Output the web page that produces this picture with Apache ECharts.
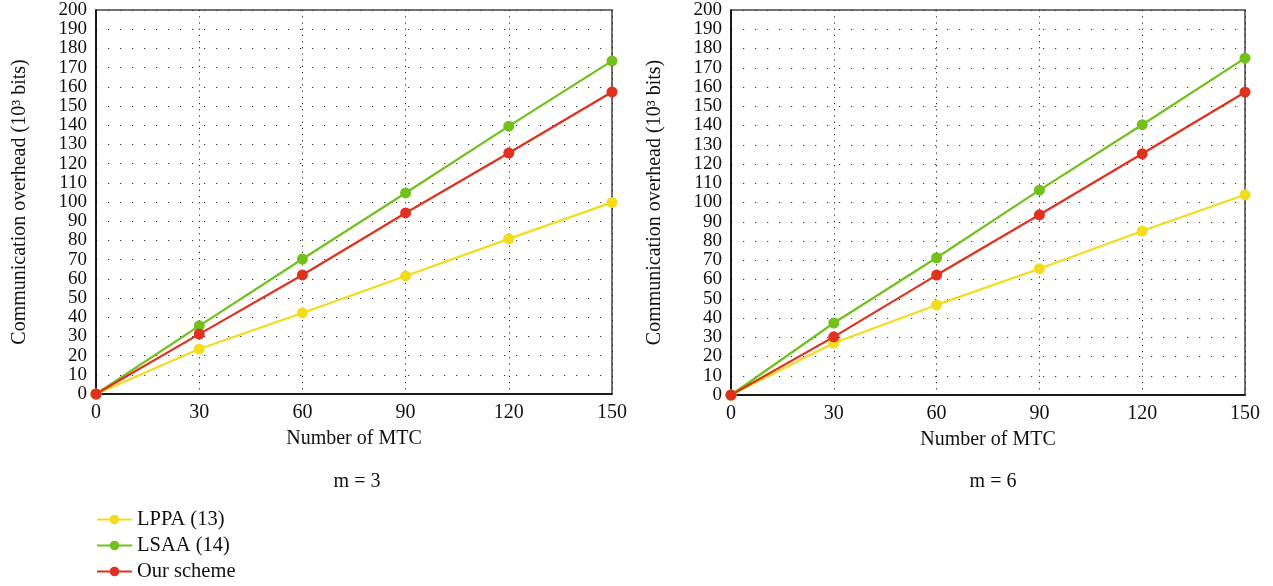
<!DOCTYPE html>
<html><head><meta charset="utf-8">
<script src="https://cdn.jsdelivr.net/npm/echarts@6/dist/echarts.min.js"></script>
<style>html,body{margin:0;padding:0;background:#fff}#c{width:1273px;height:586px}</style>
</head><body><div id="c"></div>
<script>
const xValues = [0, 30, 60, 90, 120, 150];
const seriesNames = ['LPPA (13)', 'LSAA (14)', 'Our scheme'];
// m = 3
const lppa_m3 = [0, 23.4, 42.2, 61.5, 80.8, 99.8];
const lsaa_m3 = [0, 35.5, 70.3, 104.7, 139.5, 173.5];
const ours_m3 = [0, 31.2, 62.0, 94.3, 125.5, 157.3];
// m = 6
const lppa_m6 = [0, 27.0, 46.8, 65.6, 85.2, 104.0];
const lsaa_m6 = [0, 37.4, 71.3, 106.4, 140.4, 175.0];
const ours_m6 = [0, 30.2, 62.3, 93.6, 125.3, 157.3];
const panelTitles = ['m = 3', 'm = 6'];
const xTitle = 'Number of MTC';
const yTitle = 'Communication overhead (10\u00B3 bits)';

const colors = ['#f2dc1c', '#72c11a', '#e0301e'];
const font = '"Liberation Serif", "DejaVu Serif", serif';

const grids = [
  {left: 96, right: 661, top: 10, bottom: 192},
  {left: 731, right: 28, top: 10, bottom: 191}
];

function xAxis(i){
  return {
    type: 'value', gridIndex: i, min: 0, max: 150, interval: 30,
    name: xTitle, nameLocation: 'middle', nameGap: 35,
    nameTextStyle: {fontFamily: font, fontSize: 20, color: '#111'},
    axisLine: {show: true, onZero: false, lineStyle: {color: '#000', width: 1.5}},
    axisTick: {show: false},
    axisLabel: {fontFamily: font, fontSize: 20, color: '#111', margin: 9,
                showMinLabel: true, showMaxLabel: true, hideOverlap: false},
    splitLine: {show: true, lineStyle: {color: '#222', width: 1, type: [1.2, 5]}}
  };
}
function yAxis(i){
  return {
    type: 'value', gridIndex: i, min: 0, max: 200, interval: 10,
    name: yTitle, nameLocation: 'middle', nameGap: 66,
    nameTextStyle: {fontFamily: font, fontSize: 20, color: '#111'},
    axisLine: {show: true, lineStyle: {color: '#000', width: 1.5}},
    axisTick: {show: false},
    axisLabel: {fontFamily: font, fontSize: 19, color: '#111', margin: 9,
                showMinLabel: true, showMaxLabel: true, hideOverlap: false},
    splitLine: {show: true, lineStyle: {color: '#333', width: 1, type: [1.2, 10.8]}}
  };
}
function ser(name, data, ci, gi){
  return {
    name: name, type: 'line', xAxisIndex: gi, yAxisIndex: gi,
    data: xValues.map((x, k) => [x, data[k]]),
    symbol: 'circle', symbolSize: 11, clip: false,
    lineStyle: {color: colors[ci], width: 2.2},
    itemStyle: {color: colors[ci]},
    emphasis: {disabled: true}
  };
}

const chart = echarts.init(document.getElementById('c'));
chart.setOption({
  animation: false,
  backgroundColor: '#fff',
  color: colors,
  title: [
    {text: panelTitles[0], left: 352, top: 467, textAlign: 'center',
     textStyle: {fontFamily: font, fontSize: 20, fontWeight: 'normal', color: '#111'}},
    {text: panelTitles[1], left: 988, top: 467, textAlign: 'center',
     textStyle: {fontFamily: font, fontSize: 20, fontWeight: 'normal', color: '#111'}}
  ],
  grid: grids.map(g => Object.assign({show: true, borderColor: '#444', borderWidth: 1.5, backgroundColor: 'transparent'}, g)),
  xAxis: [xAxis(0), xAxis(1)],
  yAxis: [yAxis(0), yAxis(1)],
  legend: {
    orient: 'vertical', left: 96, top: 508, height: 78, padding: 0,
    itemGap: 3, itemWidth: 35, itemHeight: 12,
    data: seriesNames,
    textStyle: {fontFamily: font, fontSize: 20.5, color: '#111', lineHeight: 23}
  },
  series: [
    ser(seriesNames[0], lppa_m3, 0, 0),
    ser(seriesNames[1], lsaa_m3, 1, 0),
    ser(seriesNames[2], ours_m3, 2, 0),
    ser(seriesNames[0], lppa_m6, 0, 1),
    ser(seriesNames[1], lsaa_m6, 1, 1),
    ser(seriesNames[2], ours_m6, 2, 1)
  ]
});
</script></body></html>
